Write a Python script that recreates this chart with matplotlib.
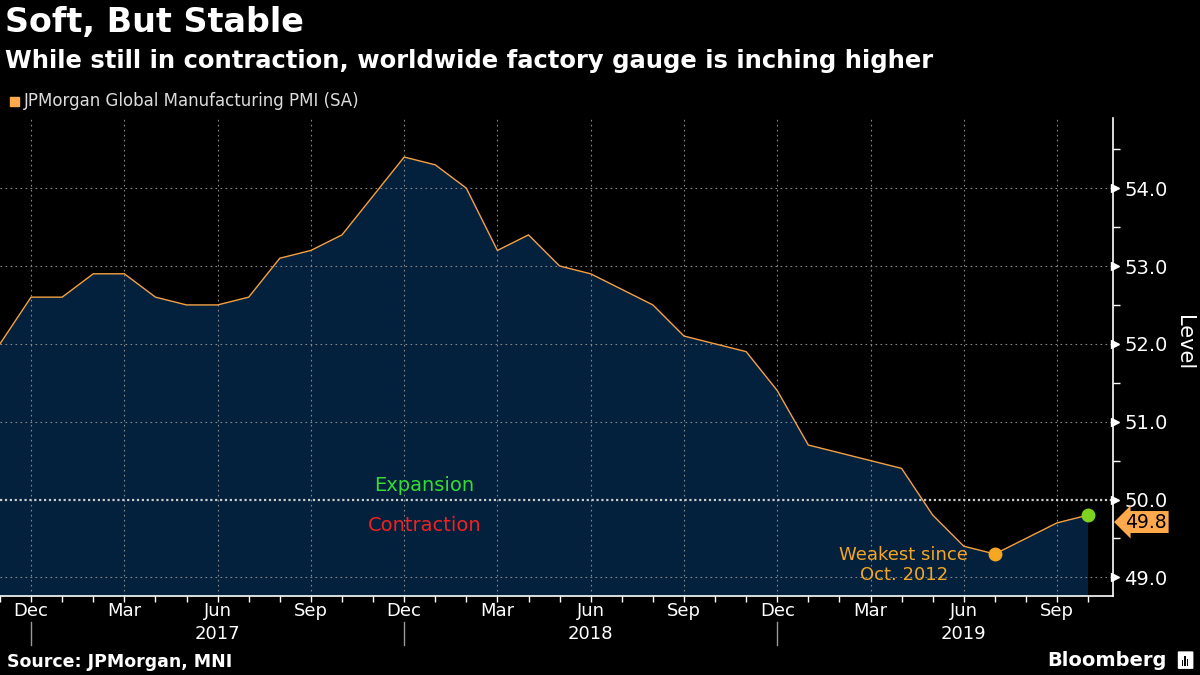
import matplotlib.pyplot as plt
from matplotlib.patches import FancyBboxPatch, Rectangle
import numpy as np

# monthly values, Nov 2016 .. Oct 2019
start_month = 10  # Nov (0-based)
pmi = [52.0, 52.6, 52.6, 52.9, 52.9, 52.6, 52.5, 52.5, 52.6, 53.1, 53.2, 53.4,
       53.9, 54.4, 54.3, 54.0, 53.2, 53.4, 53.0, 52.9, 52.7, 52.5, 52.1, 52.0,
       51.9, 51.4, 50.7, 50.6, 50.5, 50.4, 49.8, 49.4, 49.3, 49.5, 49.7, 49.8]
year_labels = ["2017", "2018", "2019"]
y_ticks = [49.0, 50.0, 51.0, 52.0, 53.0, 54.0]

BG = "#000000"
FILL = "#03203c"
LINE = "#f5a142"
GRID = "#888888"

plt.rcParams["font.family"] = ["DejaVu Sans"]

fig = plt.figure(figsize=(12, 6.75), dpi=100, facecolor=BG)
ax = fig.add_axes([0.0, 0.117, 0.9275, 0.708], facecolor=BG)

x = np.arange(len(pmi))
ax.fill_between(x, pmi, 40, color=FILL, lw=0, zorder=1)
ax.plot(x, pmi, color=LINE, lw=1.0, zorder=3)

ax.set_xlim(0, 35.8)
ax.set_ylim(48.76, 54.9)

# month names for each index
names = [["Jan", "Feb", "Mar", "Apr", "May", "Jun", "Jul", "Aug", "Sep", "Oct", "Nov", "Dec"][(start_month + i) % 12]
         for i in range(len(pmi))]
major = [i for i in range(len(pmi)) if names[i] in ("Dec", "Mar", "Jun", "Sep")]
ax.set_xticks(major)
ax.set_xticklabels([names[i] for i in major], color="white", fontsize=13)
ax.set_xticks(range(len(pmi)), minor=True)
ax.tick_params(axis="x", which="both", colors="white", length=4, width=1, direction="out", pad=0)

for i in major:
    ax.axvline(i, color=GRID, lw=0.8, ls=(0, (1.5, 3)), zorder=2)

# y axis on right
ax.yaxis.tick_right()
ax.set_yticks(y_ticks)
ax.set_yticklabels([f"{v:.1f}" for v in y_ticks], color="white", fontsize=14)
ax.set_yticks(np.arange(49.5, 54.9, 1.0), minor=True)
ax.tick_params(axis="y", which="major", length=0, pad=8)
ax.tick_params(axis="y", which="minor", colors="white", length=5, width=1, direction="out")
for v in y_ticks:
    ax.plot([35.8 + 0.08], [v], color="white", lw=0, marker=">", ms=6,
            clip_on=False, zorder=5)
    if v == 50.0:
        ax.axhline(v, color="#cccccc", lw=1.6, ls=(0, (1, 1.2)), zorder=2)
    else:
        ax.axhline(v, color=GRID, lw=0.8, ls=(0, (1.5, 3)), zorder=2)

ax.set_ylabel("Level", color="white", fontsize=15, rotation=270)
ax.yaxis.set_label_position("right")
ax.yaxis.set_label_coords(1.073, 0.53)

for side in ("top", "left"):
    ax.spines[side].set_visible(False)
ax.spines["right"].set_color("white")
ax.spines["bottom"].set_color("white")
ax.spines["right"].set_linewidth(1.2)
ax.spines["bottom"].set_linewidth(1.2)

# year labels and separators
for k, yl in enumerate(year_labels):
    jun = names.index("Jun") + 12 * k
    ax.text(jun, -0.079, yl, transform=ax.get_xaxis_transform(), ha="center", va="center",
            color="white", fontsize=13)
    dec = names.index("Dec") + 12 * k
    ax.plot([dec, dec], [-0.054, -0.102], transform=ax.get_xaxis_transform(),
            color="#999999", lw=1, clip_on=False)

# regime labels
ax.text(13.65, 50.18, "Expansion", color="#33dd33", fontsize=14, ha="center", va="center")
ax.text(13.65, 49.66, "Contraction", color="#ee2222", fontsize=14, ha="center", va="center")

# markers
low_i = 32
ax.plot(low_i, pmi[low_i], "o", color="#f5a623", ms=9, zorder=6)
ax.text(29.07, 49.16, "Weakest since\nOct. 2012", color="#f5a623", fontsize=13,
        ha="center", va="center", linespacing=1.15)
ax.plot(len(pmi) - 1, pmi[-1], "o", color="#7ed321", ms=9, zorder=6)

# last value tag
ax.annotate(f"{pmi[-1]:.1f}", xy=(1.0, pmi[-1]), xycoords=("axes fraction", "data"),
            xytext=(9, -5), textcoords="offset points", ha="left", va="center",
            color="black", fontsize=13.5,
            bbox=dict(boxstyle="larrow,pad=0.08", fc="#ffa94d", ec="none"), annotation_clip=False)

# titles
fig.text(0.004, 0.966, "Soft, But Stable", color="white", fontsize=24, fontweight="bold", va="center")
fig.text(0.004, 0.910, "While still in contraction, worldwide factory gauge is inching higher",
         color="white", fontsize=17.5, fontweight="bold", va="center")
fig.patches.append(Rectangle((0.008, 0.843), 0.0075, 0.0135, transform=fig.transFigure,
                             color="#ffa94d", figure=fig))
fig.text(0.02, 0.85, "JPMorgan Global Manufacturing PMI (SA)", color="#dddddd", fontsize=12, va="center")

fig.text(0.006, 0.019, "Source: JPMorgan, MNI", color="white", fontsize=12.5, fontweight="bold", va="center")
fig.text(0.972, 0.022, "Bloomberg", color="white", fontsize=14, fontweight="bold", ha="right", va="center")
fig.patches.append(FancyBboxPatch((0.9825, 0.01), 0.011, 0.024, boxstyle="round,pad=0.001",
                                  transform=fig.transFigure, fc="white", ec="none", figure=fig))
for k, h in enumerate([0.008, 0.014, 0.01]):
    fig.patches.append(Rectangle((0.9848 + k * 0.0022, 0.014), 0.0012, h, transform=fig.transFigure,
                                 fc="black", ec="none", figure=fig))

fig.savefig("out.png", dpi=100, facecolor=BG)
